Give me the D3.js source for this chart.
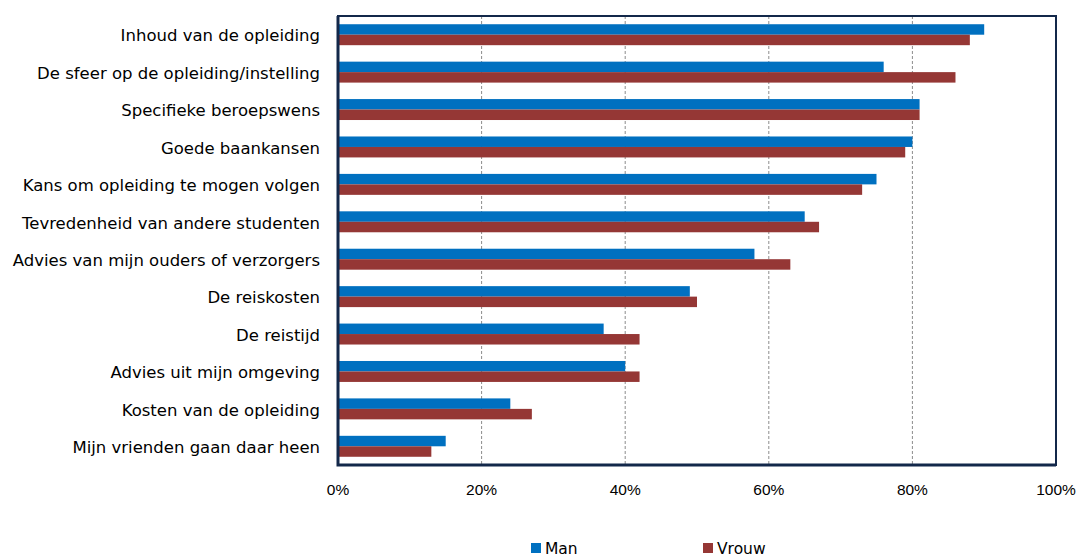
<!DOCTYPE html>
<html>
<head>
<meta charset="utf-8">
<script src="https://cdn.jsdelivr.net/npm/d3@7"></script>
<style>
  body { margin: 0; background: #fff; }
</style>
</head>
<body>
<div id="chart"></div>
<script>
// categories, top to bottom
var categories = [
    "Inhoud van de opleiding",
    "De sfeer op de opleiding/instelling",
    "Specifieke beroepswens",
    "Goede baankansen",
    "Kans om opleiding te mogen volgen",
    "Tevredenheid van andere studenten",
    "Advies van mijn ouders of verzorgers",
    "De reiskosten",
    "De reistijd",
    "Advies uit mijn omgeving",
    "Kosten van de opleiding",
    "Mijn vrienden gaan daar heen"
];
var series = ["Man", "Vrouw"];
var manValues = [90, 76, 81, 80, 75, 65, 58, 49, 37, 40, 24, 15];
var vrouwValues = [88, 86, 81, 79, 73, 67, 63, 50, 42, 42, 27, 13];
var tickValues = [0, 20, 40, 60, 80, 100];

var colors = { Man: "#0070c0", Vrouw: "#953735" };

var W = 1078, H = 558;
var margin = { top: 16, right: 22, bottom: 93, left: 338 },
    width = W - margin.left - margin.right,
    height = H - margin.top - margin.bottom;

var svg = d3.select("#chart").append("svg")
    .attr("width", W)
    .attr("height", H);

var g = svg.append("g")
    .attr("transform", "translate(" + margin.left + "," + margin.top + ")");

var x = d3.scaleLinear().domain([0, 100]).range([0, width]);
var y = d3.scaleBand().domain(categories).range([0, height]).paddingInner(0.44).paddingOuter(0.22);
var ySub = d3.scaleBand().domain(series).range([0, y.bandwidth()]);

// gridlines
g.selectAll(".grid")
    .data(tickValues.slice(1, -1))
    .enter().append("line")
    .attr("x1", function (d) { return x(d); })
    .attr("x2", function (d) { return x(d); })
    .attr("y1", 0)
    .attr("y2", height)
    .attr("stroke", "#8c8c8c")
    .attr("stroke-width", 1)
    .attr("stroke-dasharray", "3,2");

// bars
var rows = categories.map(function (c, i) {
    return { cat: c, values: [{ key: "Man", v: manValues[i] }, { key: "Vrouw", v: vrouwValues[i] }] };
});

var groups = g.selectAll(".row")
    .data(rows)
    .enter().append("g")
    .attr("transform", function (d) { return "translate(0," + y(d.cat) + ")"; });

groups.selectAll("rect")
    .data(function (d) { return d.values; })
    .enter().append("rect")
    .attr("x", 0)
    .attr("y", function (d) { return ySub(d.key); })
    .attr("width", function (d) { return x(d.v); })
    .attr("height", ySub.bandwidth())
    .attr("fill", function (d) { return colors[d.key]; });

// frame
g.append("rect")
    .attr("x", 0).attr("y", 0)
    .attr("width", width).attr("height", height)
    .attr("fill", "none")
    .attr("stroke", "#13284a")
    .attr("stroke-width", 2);
g.append("path")
    .attr("d", "M0,0V" + height + "H" + width)
    .attr("fill", "none")
    .attr("stroke", "#13284a")
    .attr("stroke-width", 3);

// category labels
g.selectAll(".cat")
    .data(categories)
    .enter().append("text")
    .attr("x", -18)
    .attr("y", function (d) { return y(d) + y.bandwidth() / 2 + 1; })
    .attr("dy", "0.35em")
    .attr("text-anchor", "end")
    .style("font-family", "DejaVu Sans")
    .style("font-size", "16.5px")
    .style("fill", "#000")
    .text(function (d) { return d; });

// x tick labels
g.selectAll(".tick-label")
    .data(tickValues)
    .enter().append("text")
    .attr("x", function (d) { return x(d); })
    .attr("y", height + 30)
    .attr("text-anchor", "middle")
    .style("font-family", "Liberation Sans")
    .style("font-size", "15.5px")
    .style("fill", "#000")
    .text(function (d) { return d + "%"; });

// legend
var legendX = [531, 703];
var legend = svg.selectAll(".legend")
    .data(series)
    .enter().append("g")
    .attr("transform", function (d, i) { return "translate(" + legendX[i] + ",543)"; });
legend.append("rect")
    .attr("width", 10).attr("height", 10)
    .attr("fill", function (d) { return colors[d]; });
legend.append("text")
    .attr("x", 14)
    .attr("y", 11)
    .style("font-family", "DejaVu Sans")
    .style("font-size", "15.5px")
    .style("fill", "#000")
    .text(function (d) { return d; });
</script>
</body>
</html>
